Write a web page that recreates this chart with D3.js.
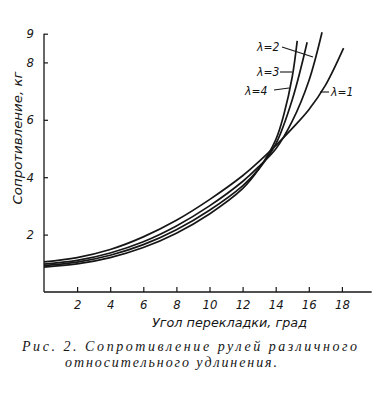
<!DOCTYPE html>
<html>
<head>
<meta charset="utf-8">
<script src="https://cdn.jsdelivr.net/npm/d3@7"></script>
<style>
  body { margin: 0; background: #fff; }
  svg text { fill: #161616; }
  .tick-label { font-family: "DejaVu Sans Condensed", "Liberation Sans Narrow", "Liberation Sans", sans-serif; font-style: italic; font-size: 13px; }
  .title { font-family: "DejaVu Sans Condensed", "Liberation Sans Narrow", "Liberation Sans", sans-serif; font-style: italic; font-size: 12px; }
  .caption { font-family: "Liberation Serif", "DejaVu Serif", serif; font-style: italic; font-size: 14px; }
  .lam { font-family: "DejaVu Sans Condensed", "Liberation Sans", sans-serif; font-style: italic; font-size: 12px; }
</style>
</head>
<body>
<div id="chart"></div>
<script>
// Rudder resistance vs. deflection angle for four aspect ratios

// x ticks (degrees) and y ticks (kg)
var xTicks = [2, 4, 6, 8, 10, 12, 14, 16, 18]
var yTicks = [2, 4, 6, 8, 9]

// [angle, resistance]
var lambda1 = [[0, 1.05], [2, 1.2], [4, 1.48], [6, 1.92], [8, 2.5], [10, 3.22], [12, 4.05], [13, 4.55], [14, 5.1], [15, 5.7], [16, 6.35], [17, 7.2], [18.1, 8.5]]
var lambda2 = [[0, 0.97], [2, 1.1], [4, 1.36], [6, 1.75], [8, 2.3], [10, 3.0], [12, 3.85], [13, 4.38], [14, 4.98], [15, 5.95], [16, 7.35], [16.8, 9.05]]
var lambda3 = [[0, 0.92], [2, 1.04], [4, 1.28], [6, 1.65], [8, 2.17], [10, 2.85], [12, 3.7], [13, 4.3], [14, 5.15], [15, 6.7], [15.9, 8.7]]
var lambda4 = [[0, 0.87], [2, 0.98], [4, 1.2], [6, 1.55], [8, 2.05], [10, 2.72], [12, 3.6], [13, 4.3], [14, 5.3], [14.5, 6.2], [15, 7.5], [15.3, 8.75]]

var seriesNames = ['λ=1', 'λ=2', 'λ=3', 'λ=4']
var seriesData = [lambda1, lambda2, lambda3, lambda4]

var width = 382, height = 400

var svg = d3.select('#chart')
  .append('svg')
    .attr('width', width)
    .attr('height', height)

var x = d3.scaleLinear().domain([0, 20]).range([44, 375])
var y = d3.scaleLinear().domain([0, 9]).range([292, 33.7])

var ink = '#161616'

// x axis: ticks point up into the plot
var xAxis = svg.append('g')
  .attr('transform', `translate(0,${y(0)})`)
  .call(d3.axisBottom(x).tickValues(xTicks).tickSizeInner(-5).tickSizeOuter(0).tickPadding(11))
xAxis.select('.domain').remove()
xAxis.append('line')
  .attr('x1', x(0)).attr('x2', x(19.8))
  .attr('stroke', ink).attr('stroke-width', 1.3)
xAxis.selectAll('.tick line').attr('stroke', ink).attr('stroke-width', 1.2)
xAxis.selectAll('.tick text')
  .attr('class', 'tick-label')
  .attr('fill', ink)
  .attr('dy', '0.45em')

// y axis: ticks point right into the plot
var yAxis = svg.append('g')
  .attr('transform', `translate(${x(0)},0)`)
  .call(d3.axisLeft(y).tickValues(yTicks).tickSizeInner(-4).tickSizeOuter(0).tickPadding(10))
yAxis.select('.domain').remove()
yAxis.append('line')
  .attr('y1', y(0)).attr('y2', y(9))
  .attr('stroke', ink).attr('stroke-width', 1.3)
yAxis.selectAll('.tick line').attr('stroke', ink).attr('stroke-width', 1.2)
yAxis.selectAll('.tick text')
  .attr('class', 'tick-label')
  .attr('fill', ink)

// curves
var line = d3.line()
  .x((d) => x(d[0]))
  .y((d) => y(d[1]))
  .curve(d3.curveCatmullRom.alpha(0.5))

svg.selectAll('path.curve')
  .data(seriesData)
  .enter()
  .append('path')
    .attr('class', 'curve')
    .attr('d', (d) => line(d))
    .attr('fill', 'none')
    .attr('stroke', ink)
    .attr('stroke-width', 1.7)

// curve labels with leader lines
var labels = [
  { name: seriesNames[1], tx: 257, ty: 51, x1: 282, y1: 47, x2: 313, y2: 57 },
  { name: seriesNames[2], tx: 257, ty: 76, x1: 280, y1: 72, x2: 292, y2: 72 },
  { name: seriesNames[3], tx: 245, ty: 95, x1: 274, y1: 90, x2: 289, y2: 88 },
  { name: seriesNames[0], tx: 331, ty: 96, x1: 320, y1: 92, x2: 329, y2: 92 },
]

svg.selectAll('line.leader')
  .data(labels)
  .enter()
  .append('line')
    .attr('class', 'leader')
    .attr('x1', (d) => d.x1).attr('y1', (d) => d.y1)
    .attr('x2', (d) => d.x2).attr('y2', (d) => d.y2)
    .attr('stroke', ink)
    .attr('stroke-width', 1.1)

svg.selectAll('text.lam')
  .data(labels)
  .enter()
  .append('text')
    .attr('class', 'lam')
    .attr('x', (d) => d.tx)
    .attr('y', (d) => d.ty)
    .text((d) => d.name)

// axis titles
svg.append('text')
  .attr('class', 'title')
  .attr('transform', 'translate(22,138) rotate(-90)')
  .attr('text-anchor', 'middle')
  .attr('textLength', 133)
  .attr('lengthAdjust', 'spacingAndGlyphs')
  .text('Сопротивление, кг')

svg.append('text')
  .attr('class', 'title')
  .attr('x', 152)
  .attr('y', 327)
  .attr('textLength', 155)
  .attr('lengthAdjust', 'spacingAndGlyphs')
  .text('Угол перекладки, град')

// caption
svg.append('text')
  .attr('class', 'caption')
  .attr('x', 22)
  .attr('y', 351)
  .attr('textLength', 335)
  .attr('lengthAdjust', 'spacing')
  .text('Рис. 2.  Сопротивление рулей различного')

svg.append('text')
  .attr('class', 'caption')
  .attr('x', 65)
  .attr('y', 367)
  .attr('textLength', 212)
  .attr('lengthAdjust', 'spacing')
  .text('относительного удлинения.')
</script>
</body>
</html>
